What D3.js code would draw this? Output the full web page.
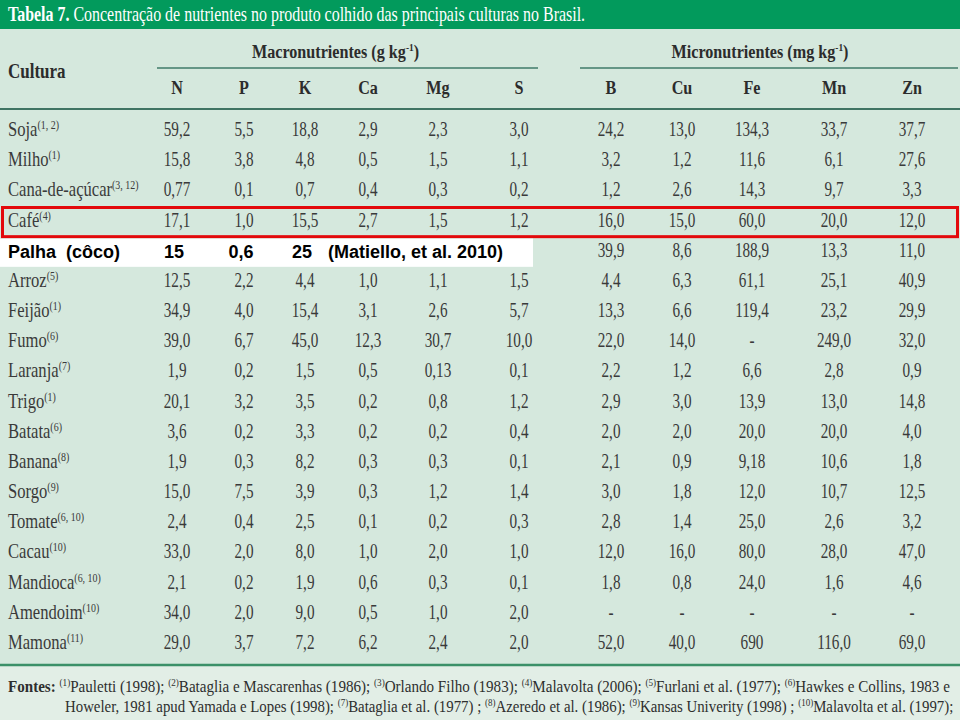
<!DOCTYPE html>
<html><head><meta charset="utf-8">
<script src="https://cdn.jsdelivr.net/npm/d3@7"></script>
<style>html,body{margin:0;padding:0;background:#d5e8dd;}svg{display:block;}</style>
</head><body><svg id="c" width="960" height="720"></svg>
<script>
const title = ["Tabela 7.", " Concentração de nutrientes no produto colhido das principais culturas no Brasil."];
const groupLabels = [["Macronutrientes (g kg", "-1", ")"], ["Micronutrientes (mg kg", "-1", ")"]];
const macroCols = ["N","P","K","Ca","Mg","S"];
const microCols = ["B","Cu","Fe","Mn","Zn"];
const cultures = ["Soja","Milho","Cana-de-açúcar","Café","","Arroz","Feijão","Fumo","Laranja","Trigo","Batata","Banana","Sorgo","Tomate","Cacau","Mandioca","Amendoim","Mamona"];
const refs = ["1, 2","1","3, 12","4","","5","1","6","7","1","6","8","9","6, 10","10","6, 10","10","11"];
const N  = ["59,2","15,8","0,77","17,1",null,"12,5","34,9","39,0","1,9","20,1","3,6","1,9","15,0","2,4","33,0","2,1","34,0","29,0"];
const P  = ["5,5","3,8","0,1","1,0",null,"2,2","4,0","6,7","0,2","3,2","0,2","0,3","7,5","0,4","2,0","0,2","2,0","3,7"];
const K  = ["18,8","4,8","0,7","15,5",null,"4,4","15,4","45,0","1,5","3,5","3,3","8,2","3,9","2,5","8,0","1,9","9,0","7,2"];
const Ca = ["2,9","0,5","0,4","2,7",null,"1,0","3,1","12,3","0,5","0,2","0,2","0,3","0,3","0,1","1,0","0,6","0,5","6,2"];
const Mg = ["2,3","1,5","0,3","1,5",null,"1,1","2,6","30,7","0,13","0,8","0,2","0,3","1,2","0,2","2,0","0,3","1,0","2,4"];
const S  = ["3,0","1,1","0,2","1,2",null,"1,5","5,7","10,0","0,1","1,2","0,4","0,1","1,4","0,3","1,0","0,1","2,0","2,0"];
const B  = ["24,2","3,2","1,2","16,0","39,9","4,4","13,3","22,0","2,2","2,9","2,0","2,1","3,0","2,8","12,0","1,8","-","52,0"];
const Cu = ["13,0","1,2","2,6","15,0","8,6","6,3","6,6","14,0","1,2","3,0","2,0","0,9","1,8","1,4","16,0","0,8","-","40,0"];
const Fe = ["134,3","11,6","14,3","60,0","188,9","61,1","119,4","-","6,6","13,9","20,0","9,18","12,0","25,0","80,0","24,0","-","690"];
const Mn = ["33,7","6,1","9,7","20,0","13,3","25,1","23,2","249,0","2,8","13,0","20,0","10,6","10,7","2,6","28,0","1,6","-","116,0"];
const Zn = ["37,7","27,6","3,3","12,0","11,0","40,9","29,9","32,0","0,9","14,8","4,0","1,8","12,5","3,2","47,0","4,6","-","69,0"];
const highlightRow = "Café";
const palhaLabel = "Palha  (côco)";
const palhaValues = {N:"15", P:"0,6", K:"25"};
const palhaNote = "(Matiello, et al. 2010)";
const footer = [
  [["b","Fontes: "],["s","(1)"],["t","Pauletti (1998); "],["s","(2)"],["t","Bataglia e Mascarenhas (1986); "],["s","(3)"],["t","Orlando Filho (1983); "],["s","(4)"],["t","Malavolta (2006); "],["s","(5)"],["t","Furlani et al. (1977); "],["s","(6)"],["t","Hawkes e Collins, 1983 e"]],
  [["t","Howeler, 1981 apud Yamada e Lopes (1998); "],["s","(7)"],["t","Bataglia et al. (1977) ; "],["s","(8)"],["t","Azeredo et al. (1986); "],["s","(9)"],["t","Kansas Univerity (1998) ; "],["s","(10)"],["t","Malavolta et al. (1997);"]]
];

const values = {N,P,K,Ca,Mg,S,B,Cu,Fe,Mn,Zn};
const cols = macroCols.concat(microCols);
const W = 960, H = 720;
const SERIF = "Liberation Serif, DejaVu Serif, serif";
const SANS = "Liberation Sans, Arial, sans-serif";
const svg = d3.select("#c");

const x = d3.scaleOrdinal().domain(cols).range([177,244,305,368,438,519,611,682,752,834,912]);
const y = d3.scaleBand().domain(d3.range(cultures.length)).range([115, 658]).padding(0);
const yc = i => y(i) + y.bandwidth()/2;

function sx(sel, px, py, s){ return sel.attr("transform",`translate(${px},${py}) scale(${s},1)`); }

// backgrounds
svg.append("rect").attr("x",0).attr("y",0).attr("width",W).attr("height",H).attr("fill","#d5e8dd");
svg.append("rect").attr("x",0).attr("y",666).attr("width",W).attr("height",H-666).attr("fill","#e2eee6");
svg.append("rect").attr("x",0).attr("y",0).attr("width",W).attr("height",29).attr("fill","#029a5c");

// title
const tt = sx(svg.append("text"),8,21,0.76).attr("font-family",SERIF).attr("font-size",21).attr("fill","#ffffff");
tt.append("tspan").attr("font-weight","bold").text(title[0]);
tt.append("tspan").text(title[1]);

// header
sx(svg.append("text"),8,78,0.85).attr("font-family",SERIF).attr("font-size",20).attr("font-weight","bold")
  .attr("fill","#2c2c2c").text("Cultura");

const groups = [{lab:groupLabels[0], x0:157, x1:538, dx:-12},{lab:groupLabels[1], x0:580, x1:958, dx:-9}];
groups.forEach(g=>{
  const t = sx(svg.append("text"),(g.x0+g.x1)/2 + g.dx, 58, 0.85).attr("text-anchor","middle").attr("font-family",SERIF)
    .attr("font-size",19).attr("font-weight","bold").attr("fill","#2c2c2c");
  t.append("tspan").text(g.lab[0]);
  t.append("tspan").attr("font-size",11).attr("dy",-7).text(g.lab[1]);
  t.append("tspan").attr("dy",7).text(g.lab[2]);
  svg.append("line").attr("x1",g.x0).attr("x2",g.x1).attr("y1",68).attr("y2",68)
    .attr("stroke","#3f7b68").attr("stroke-width",1.6);
});
svg.selectAll("text.colh").data(cols).join("text").attr("class","colh")
  .each(function(c){ sx(d3.select(this), x(c), 94, 0.85); })
  .attr("text-anchor","middle").attr("font-family",SERIF).attr("font-size",19).attr("font-weight","bold")
  .attr("fill","#2c2c2c").text(c=>c);
svg.append("line").attr("x1",0).attr("x2",W).attr("y1",109).attr("y2",109).attr("stroke","#3f7463").attr("stroke-width",2);

// row labels
const labs = svg.selectAll("text.rl").data(cultures.map((c,i)=>({c,i,r:refs[i]})).filter(d=>d.c))
  .join("text").attr("class","rl")
  .each(function(d){ sx(d3.select(this), 8, yc(d.i)+6, 0.83); })
  .attr("font-family",SERIF).attr("font-size",20).attr("fill","#3a3a3a");
labs.append("tspan").text(d=>d.c);
labs.append("tspan").attr("font-size",12).attr("dy",-7).text(d=>`(${d.r})`);

// values
const cells = [];
cols.forEach(c=>values[c].forEach((v,i)=>{ if(v!==null) cells.push({c,i,v}); }));
svg.selectAll("text.val").data(cells).join("text").attr("class","val")
  .each(function(d){ sx(d3.select(this), x(d.c), yc(d.i)+6, 0.76); })
  .attr("text-anchor","middle").attr("font-family",SERIF).attr("font-size",20).attr("fill","#3a3a3a")
  .text(d=>d.v);

// highlight box
const hi = cultures.indexOf(highlightRow);
svg.append("rect").attr("x",2.5).attr("y",y(hi)+2).attr("width",W-5).attr("height",y.bandwidth()-1)
  .attr("fill","none").attr("stroke","#e3090b").attr("stroke-width",3);

// palha overlay
const pi = hi + 1;
svg.append("rect").attr("x",0).attr("y",y(pi)+3).attr("width",533).attr("height",y.bandwidth()-2).attr("fill","#ffffff");
const py = yc(pi)+7;
svg.append("text").attr("x",8).attr("y",py).attr("font-family",SANS).attr("font-weight","bold").attr("font-size",18)
  .attr("fill","#000").style("white-space","pre").text(palhaLabel);
Object.entries(palhaValues).forEach(([c,v])=>{
  svg.append("text").attr("x",x(c)-3).attr("y",py).attr("text-anchor","middle").attr("font-family",SANS)
    .attr("font-weight","bold").attr("font-size",18).attr("fill","#000").text(v);
});
svg.append("text").attr("x",x("K")+23).attr("y",py).attr("font-family",SANS).attr("font-weight","bold")
  .attr("font-size",18).attr("fill","#000").text(palhaNote);

// bottom line + footer
svg.append("line").attr("x1",0).attr("x2",W).attr("y1",665).attr("y2",665).attr("stroke","#3b9068").attr("stroke-width",2.5);
const fl = [{x:8,y:692,s:0.915},{x:65,y:712,s:0.9}];
footer.forEach((line,k)=>{
  const t = sx(svg.append("text"),fl[k].x,fl[k].y,fl[k].s).attr("font-family",SERIF).attr("font-size",16.5)
    .attr("fill","#2e2e2e").style("white-space","pre");
  let up = false;
  line.forEach(([kind,txt])=>{
    const s = t.append("tspan").text(txt);
    if(kind==="b") s.attr("font-weight","bold");
    if(kind==="s"){ s.attr("font-size",10).attr("dy",-6); up = true; }
    else if(up){ s.attr("dy",6); up=false; }
  });
});
</script></body></html>
